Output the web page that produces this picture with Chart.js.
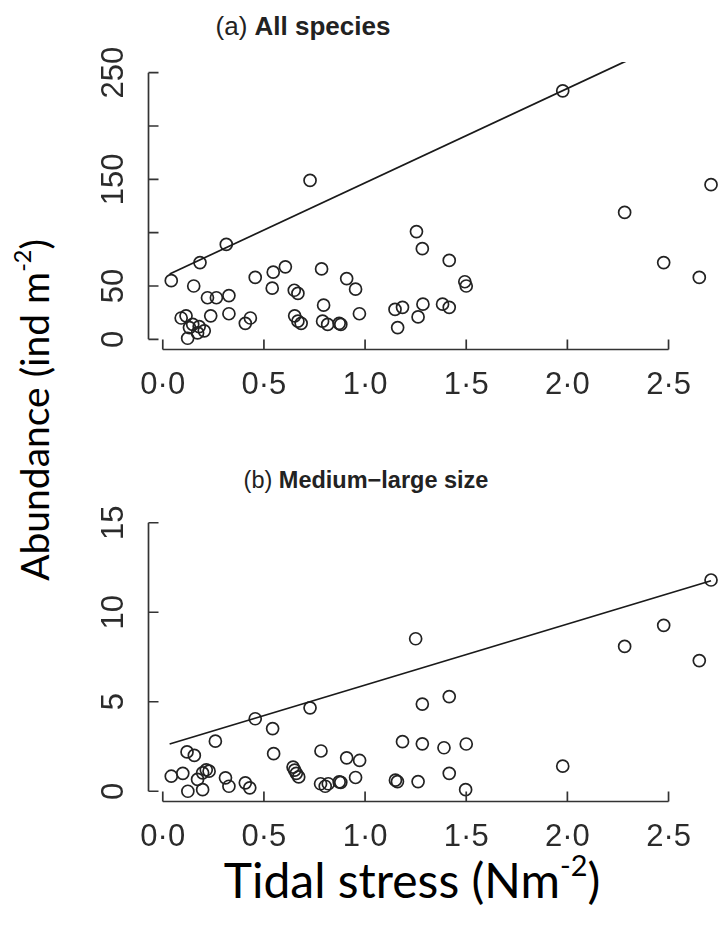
<!DOCTYPE html>
<html><head><meta charset="utf-8">
<script src="https://cdn.jsdelivr.net/npm/chart.js@4.4.0/dist/chart.umd.min.js"></script>
<style>
html,body{margin:0;padding:0;background:#fff;}
body{width:725px;height:928px;overflow:hidden;position:relative;font-family:"Liberation Sans",Arial,sans-serif;}
canvas{position:absolute;left:0;}
#c1{top:0;}
#c2{top:400px;}
.title{position:absolute;font-size:26px;line-height:26px;color:#222;white-space:nowrap;transform:translateX(-50%);}
.title b{font-weight:bold;}
.big{position:absolute;font-family:Lato,"Open Sans",sans-serif;color:#000;white-space:nowrap;}
.big sup{font-size:0.6em;line-height:0;vertical-align:0.75em;}
#ylab{left:34px;top:410px;font-size:39px;line-height:39px;transform:translate(-50%,-50%) rotate(-90deg);}
#xlab{left:412px;top:880px;font-size:48px;line-height:48px;transform:translate(-50%,-50%);}
</style></head>
<body>
<div class="title" style="left:303px;top:13px">(a) <b>All species</b></div>
<div class="title" style="left:366px;top:468px;font-size:23.5px;line-height:24px">(b) <b>Medium−large size</b></div>
<div class="big" id="ylab">Abundance (ind m<sup>-2</sup>)</div>
<div class="big" id="xlab">Tidal stress (Nm<sup>-2</sup>)</div>
<canvas id="c1" width="725" height="400"></canvas>
<canvas id="c2" width="725" height="450"></canvas>
<script>
// ---- data ----
const xTicks = [0, 0.5, 1, 1.5, 2, 2.5];
const xTickLabels = ['0·0', '0·5', '1·0', '1·5', '2·0', '2·5'];

const yTicksTop = [0, 50, 100, 150, 200, 250];
const yTickLabelsTop = ['0', '50', '', '150', '', '250'];
const yTicksBot = [0, 5, 10, 15];
const yTickLabelsBot = ['0', '5', '10', '15'];

const topX = [0.042,0.184,0.314,0.728,0.153,0.221,0.265,0.327,0.457,0.546,0.606,0.541,0.650,0.668,0.785,0.909,0.953,0.795,0.972,1.148,1.185,1.161,1.254,1.283,1.286,1.262,1.416,1.493,1.500,1.383,1.416,1.977,2.283,2.476,2.652,2.710,
  0.091,0.115,0.148,0.132,0.180,0.205,0.172,0.123,0.237,0.327,0.408,0.433,0.652,0.668,0.684,0.790,0.815,0.872,0.880];
const topY = [55,72,89,149,50,39,39,41,58,63,68,48,46,43,66,57,47,32,24,28,30,11,101,85,33,21,74,54,50,33,30,233,119,72,58,145,
  20,22,14,11,12,8,6,1,22,24,15,20,22,17,15,17,14,15,14];

const botX = [0.042,0.099,0.120,0.156,0.124,0.172,0.197,0.215,0.229,0.197,0.260,0.310,0.327,0.408,0.430,0.457,0.543,0.548,0.644,0.652,0.660,0.672,0.728,0.782,0.780,0.803,0.818,0.872,0.880,0.909,0.973,0.953,1.150,1.160,1.185,1.250,1.283,1.283,1.262,1.416,1.390,1.500,1.416,1.497,1.977,2.283,2.476,2.652,2.710];
const botY = [0.84,1.0,2.2,2.0,0.0,0.66,1.03,1.2,1.12,0.09,2.8,0.75,0.28,0.47,0.19,4.05,3.5,2.1,1.35,1.18,1.0,0.8,4.66,2.25,0.42,0.28,0.42,0.52,0.5,1.87,1.72,0.77,0.62,0.54,2.77,8.52,4.87,2.65,0.54,5.29,2.43,2.64,1.0,0.09,1.4,8.09,9.27,7.3,11.8];

const fitTopX = [0.034, 2.71];
const fitTopY = [61.3, 298];
const fitBotX = [0.034, 2.71];
const fitBotY = [2.64, 11.76];

// ---- R-style axes (inward ticks, axis line only over tick range) ----
const rAxes = {
  id: 'rAxes',
  afterDraw(chart, args, opts) {
    const {ctx, chartArea, scales} = chart;
    const xs = scales.x, ys = scales.y;
    ctx.save();
    ctx.strokeStyle = '#333';
    ctx.lineWidth = 1.7;
    const ax = chartArea.left + 0.5, ay = chartArea.bottom - 0.5;
    const yT = opts.yTicks;
    ctx.beginPath();
    ctx.moveTo(ax, ys.getPixelForValue(yT[0]));
    ctx.lineTo(ax, ys.getPixelForValue(yT[yT.length - 1]));
    yT.forEach(v => { const p = ys.getPixelForValue(v); ctx.moveTo(ax, p); ctx.lineTo(ax + 10, p); });
    const xT = opts.xTicks;
    ctx.moveTo(xs.getPixelForValue(xT[0]), ay);
    ctx.lineTo(xs.getPixelForValue(xT[xT.length - 1]), ay);
    xT.forEach(v => { const p = xs.getPixelForValue(v); ctx.moveTo(p, ay); ctx.lineTo(p, ay - 10); });
    ctx.stroke();
    ctx.restore();
  }
};

function pts(xs, ys) { return xs.map((x, i) => ({x, y: ys[i]})); }

function makeChart(id, xs, ys, fx, fy, yT, yL, yMin, yMax, padTop, xAxisH, yPad) {
  const tickFont = {family: '"Liberation Sans", Arial, sans-serif', size: 31};
  return new Chart(document.getElementById(id), {
    type: 'scatter',
    data: {datasets: [
      {type: 'line', data: pts(fx, fy), borderColor: '#1a1a1a', borderWidth: 1.8, pointRadius: 0, fill: false, tension: 0},
      {type: 'scatter', data: pts(xs, ys), pointStyle: 'circle', pointRadius: 6, pointBorderWidth: 1.7,
       borderColor: '#222', pointBorderColor: '#222', backgroundColor: 'rgba(0,0,0,0)', pointBackgroundColor: 'rgba(0,0,0,0)', clip: false}
    ]},
    options: {
      responsive: false, animation: false, devicePixelRatio: 1, events: [],
      layout: {padding: {top: padTop, left: 0, right: 0, bottom: 0}},
      plugins: {legend: {display: false}, tooltip: {enabled: false}, title: {display: false},
                rAxes: {xTicks: xTicks, yTicks: yT}},
      scales: {
        x: {type: 'linear', min: -0.073, max: 2.741,
            grid: {display: false}, border: {display: false},
            afterBuildTicks: s => { s.ticks = xTicks.map(v => ({value: v})); },
            afterFit: s => { s.height = xAxisH; },
            ticks: {font: tickFont, color: '#2b2b2b', padding: 9, autoSkip: false, minRotation: 0, maxRotation: 0,
                    callback: v => xTickLabels[xTicks.indexOf(v)]}},
        y: {type: 'linear', min: yMin, max: yMax,
            grid: {display: false}, border: {display: false},
            afterBuildTicks: s => { s.ticks = yT.map(v => ({value: v})); },
            afterFit: s => { s.width = 148; },
            ticks: {font: tickFont, color: '#2b2b2b', padding: yPad, autoSkip: false, minRotation: 90, maxRotation: 90,
                    crossAlign: 'center', callback: v => yL[yT.indexOf(v)]}}
      }
    },
    plugins: [rAxes]
  });
}

makeChart('c1', topX, topY, fitTopX, fitTopY, yTicksTop, yTickLabelsTop, -10, 260, 62, 50, 0);
makeChart('c2', botX, botY, fitBotX, fitBotY, yTicksBot, yTickLabelsBot, -0.6, 15.6, 112, 48, 8);
</script>
</body></html>
